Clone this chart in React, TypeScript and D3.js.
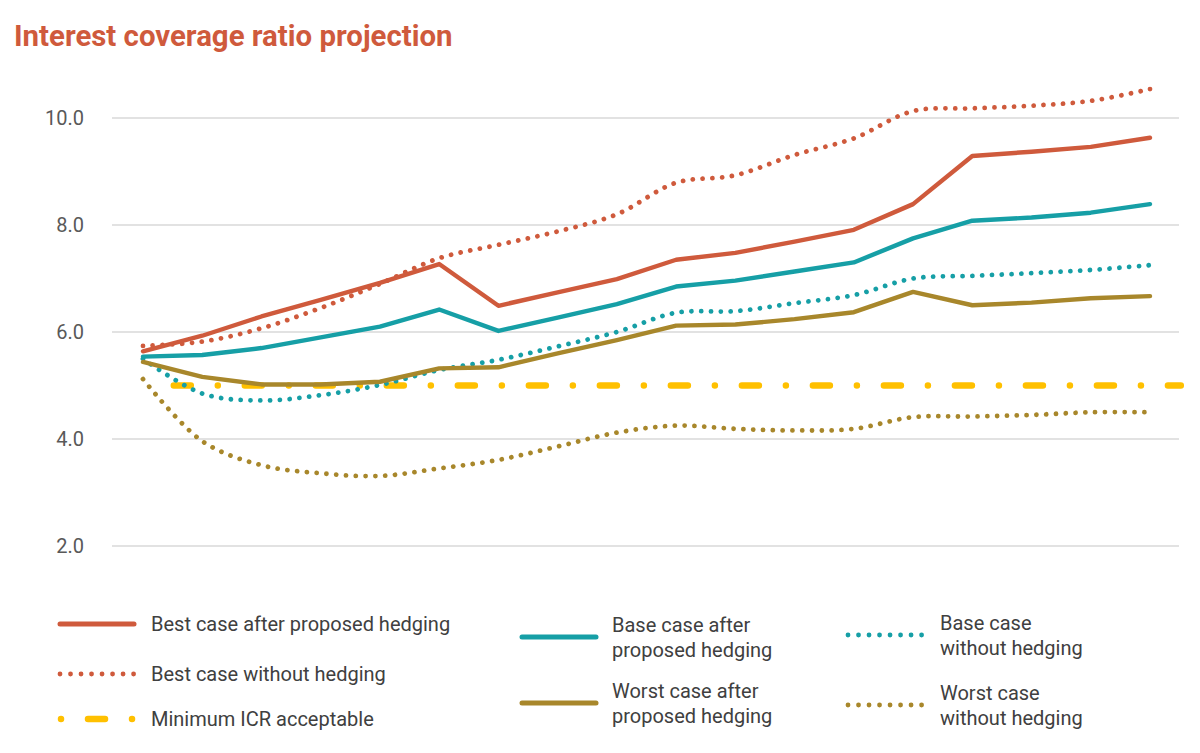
import * as d3 from "d3";

// ICR projection, 18 periods
const bestAfter = [5.64, 5.93, 6.29, 6.6, 6.92, 7.27, 6.49, 6.74, 6.99, 7.35, 7.48, 7.69, 7.91, 8.39, 9.29, 9.37, 9.46, 9.63];
const bestWithout = [5.74, 5.82, 6.07, 6.45, 6.9, 7.38, 7.63, 7.88, 8.2, 8.79, 8.93, 9.31, 9.62, 10.13, 10.18, 10.23, 10.32, 10.54];
const baseAfter = [5.54, 5.57, 5.7, 5.9, 6.1, 6.42, 6.02, 6.27, 6.52, 6.85, 6.96, 7.13, 7.3, 7.75, 8.08, 8.14, 8.23, 8.39];
const baseWithout = [5.5, 4.85, 4.72, 4.82, 5.01, 5.29, 5.48, 5.73, 6.0, 6.36, 6.39, 6.54, 6.69, 7.0, 7.05, 7.1, 7.16, 7.25];
const worstAfter = [5.44, 5.16, 5.02, 5.02, 5.07, 5.32, 5.34, 5.6, 5.85, 6.12, 6.14, 6.24, 6.37, 6.75, 6.5, 6.55, 6.63, 6.67];
const worstWithout = [5.12, 3.96, 3.51, 3.36, 3.31, 3.45, 3.61, 3.86, 4.12, 4.25, 4.19, 4.16, 4.19, 4.41, 4.42, 4.45, 4.5, 4.5];
const minIcr = [5, 5, 5, 5, 5, 5, 5, 5, 5, 5, 5, 5, 5, 5, 5, 5, 5, 5];

const yTicks = [2, 4, 6, 8, 10];

const RED = "#CF5A3C";
const TEAL = "#169FA6";
const GOLD = "#A8872B";
const YELLOW = "#FFC000";
const FONT = "Roboto, 'Noto Sans', sans-serif";

const DOTS = "0.01 9.8";
const DASHDOT = "17 27 0.01 27";

interface Series {
  name: string[];
  values: number[];
  color: string;
  dotted: boolean;
  lx: number; // legend icon x
  tx: number; // legend text x
  ly: number; // legend row y
}

const series: Series[] = [
  {name: ["Worst case", "without hedging"], values: worstWithout, color: GOLD, dotted: true, lx: 848, tx: 940, ly: 705},
  {name: ["Base case", "without hedging"], values: baseWithout, color: TEAL, dotted: true, lx: 848, tx: 940, ly: 635},
  {name: ["Worst case after", "proposed hedging"], values: worstAfter, color: GOLD, dotted: false, lx: 522, tx: 612, ly: 703},
  {name: ["Base case after", "proposed hedging"], values: baseAfter, color: TEAL, dotted: false, lx: 522, tx: 612, ly: 637},
  {name: ["Best case without hedging"], values: bestWithout, color: RED, dotted: true, lx: 60, tx: 151, ly: 674},
  {name: ["Best case after proposed hedging"], values: bestAfter, color: RED, dotted: false, lx: 60, tx: 151, ly: 624},
];

export default function App() {
  const x = d3.scaleLinear().domain([0, 17]).range([143, 1150]);
  const y = d3.scaleLinear().domain([2, 10]).range([546, 118]);

  const straight = d3
    .line<number>()
    .x((_, i) => x(i))
    .y((v) => y(v));
  const smooth = d3
    .line<number>()
    .x((_, i) => x(i))
    .y((v) => y(v))
    .curve(d3.curveCatmullRom.alpha(0.5));
  // minimum line sits on the secondary (between-tick) category axis
  const icrLine = d3
    .line<number>()
    .x((_, i) => x(i + 0.52))
    .y((v) => y(v));

  return (
    <div style={{position: "absolute", left: 0, top: 0}}>
      <svg width={1200} height={753} style={{display: "block", background: "#fff"}} fontFamily={FONT}>
        <text x={14} y={46} fontSize={29.4} fontWeight="bold" fill={RED}>
          Interest coverage ratio projection
        </text>

        {yTicks.map((t) => (
          <g key={t}>
            <line x1={112} x2={1179} y1={y(t)} y2={y(t)} stroke="#D9D9D9" strokeWidth={1.5} />
            <text x={84} y={y(t)} dy="0.35em" textAnchor="end" fontSize={20} fill="#595959">
              {t.toFixed(1)}
            </text>
          </g>
        ))}

        <path
          d={icrLine(minIcr) ?? ""}
          fill="none"
          stroke={YELLOW}
          strokeWidth={6.5}
          strokeLinecap="round"
          strokeDasharray={DASHDOT}
        />

        {series.map((s, k) => (
          <path
            key={k}
            d={(s.dotted ? smooth : straight)(s.values) ?? ""}
            fill="none"
            stroke={s.color}
            strokeWidth={s.dotted ? 4.8 : 4.4}
            strokeLinecap="round"
            strokeLinejoin="round"
            strokeDasharray={s.dotted ? DOTS : undefined}
          />
        ))}

        {/* legend */}
        <g fontSize={20} fill="#404040">
          {series.map((s, k) => (
            <g key={k}>
              <line
                x1={s.lx}
                x2={s.lx + 74}
                y1={s.ly}
                y2={s.ly}
                stroke={s.color}
                strokeWidth={s.dotted ? 4.8 : 5}
                strokeLinecap="round"
                strokeDasharray={s.dotted ? "0.01 10.5" : undefined}
              />
              {s.name.map((ln, j) => (
                <text key={j} x={s.tx} y={s.ly + (j - (s.name.length - 1) / 2) * 25} dy="0.35em">
                  {ln}
                </text>
              ))}
            </g>
          ))}
          <line
            x1={61}
            x2={140}
            y1={719}
            y2={719}
            stroke={YELLOW}
            strokeWidth={6.5}
            strokeLinecap="round"
            strokeDasharray="0.01 27 17 27 0.01 40"
          />
          <text x={151} y={719} dy="0.35em">
            Minimum ICR acceptable
          </text>
        </g>
      </svg>
    </div>
  );
}
